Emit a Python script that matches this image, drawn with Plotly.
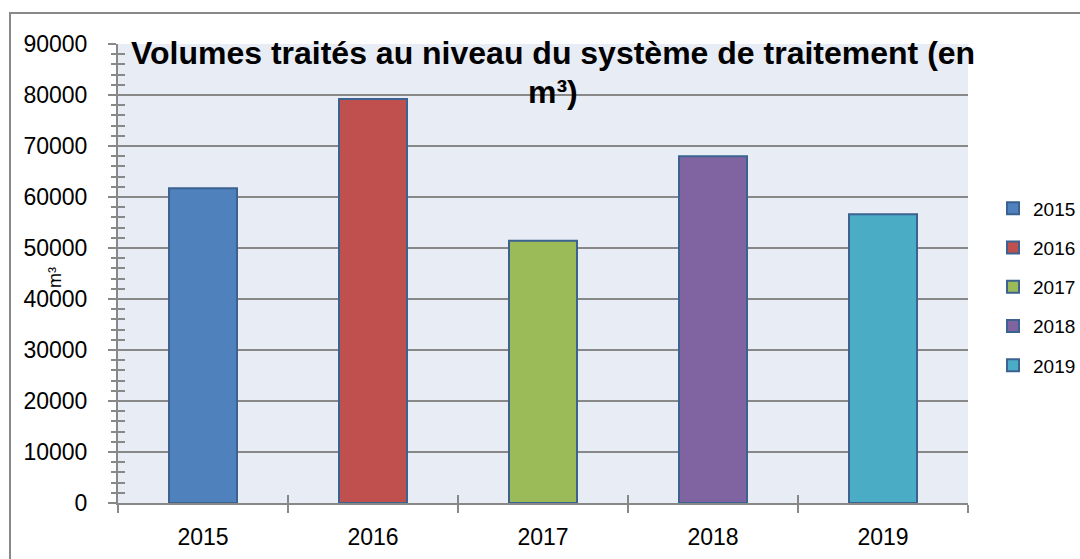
import plotly.graph_objects as go

years = ["2015", "2016", "2017", "2018", "2019"]
volumes = [61700, 79200, 51400, 68000, 56600]
colors = ["#4F81BD", "#C0504D", "#9BBB59", "#8064A2", "#4BACC6"]
y_ticks = [0, 10000, 20000, 30000, 40000, 50000, 60000, 70000, 80000, 90000]
title_line1 = "Volumes traités au niveau du système de traitement (en"
title_line2 = "m³)"
y_title = "m³"

FONT = "Liberation Sans, Arial, sans-serif"

fig = go.Figure()
for yr, v, c in zip(years, volumes, colors):
    fig.add_trace(go.Bar(
        x=[yr], y=[v], name=yr, legendgroup=yr,
        marker=dict(color=c, line=dict(color="#3B6290", width=2)),
        width=0.4,
    ))

# invisible trace to drive the overlay axes (inside tick halves)
fig.add_trace(go.Bar(x=years, y=volumes, xaxis="x2", yaxis="y2",
                     marker=dict(color="rgba(0,0,0,0)", line=dict(width=0)),
                     showlegend=False, hoverinfo="skip", width=0.4))

axis_col = "#888888"
fig.update_layout(
    width=1080, height=559,
    margin=dict(l=118, r=112, t=44, b=56, autoexpand=False),
    paper_bgcolor="white",
    plot_bgcolor="#E8ECF4",
    barmode="overlay",
    showlegend=True,
    legend=dict(x=(993 - 118) / 850, xanchor="left", y=(503 - 287) / 459, yanchor="middle",
                font=dict(family=FONT, size=19, color="#000"),
                tracegroupgap=11.5, bgcolor="rgba(0,0,0,0)"),
    xaxis=dict(type="category", categoryarray=years, range=[-0.5, 4.5], automargin=False,
               showline=True, linecolor=axis_col, linewidth=2,
               ticks="outside", tickson="boundaries", ticklen=8, tickwidth=2, tickcolor=axis_col,
               tickfont=dict(family=FONT, size=23, color="#000"),
               ticklabelstandoff=12, showgrid=False, zeroline=False),
    yaxis=dict(range=[0, 90000], tickvals=y_ticks, ticktext=[str(t) for t in y_ticks], automargin=False,
               showline=True, linecolor=axis_col, linewidth=2,
               ticks="outside", ticklen=8, tickwidth=2, tickcolor=axis_col,
               minor=dict(dtick=2000, ticks="outside", ticklen=5, tickwidth=2, tickcolor=axis_col, showgrid=False),
               tickfont=dict(family=FONT, size=23, color="#000"),
               ticklabelstandoff=16,
               showgrid=True, gridcolor=axis_col, gridwidth=2, zeroline=False),
    xaxis2=dict(type="category", categoryarray=years, range=[-0.5, 4.5], overlaying="x", automargin=False,
                anchor="y2", ticks="inside", tickson="boundaries", ticklen=8, tickwidth=2,
                tickcolor=axis_col, showticklabels=False, showgrid=False, showline=False, zeroline=False),
    yaxis2=dict(range=[0, 90000], overlaying="y", anchor="x2", side="left", automargin=False,
                tickvals=y_ticks, ticks="inside", ticklen=8, tickwidth=2, tickcolor=axis_col,
                minor=dict(dtick=2000, ticks="inside", ticklen=7, tickwidth=2, tickcolor=axis_col, showgrid=False),
                showticklabels=False, showgrid=False, showline=False, zeroline=False),
)

fig.add_annotation(text="<b>" + title_line1 + "</b>", xref="paper", yref="paper",
                   x=(553 - 118) / 850, y=(503 - 53) / 459, xanchor="center", yanchor="middle",
                   showarrow=False, font=dict(family=FONT, size=32, color="#000"))
fig.add_annotation(text="<b>" + title_line2 + "</b>", xref="paper", yref="paper",
                   x=(553 - 118) / 850, y=(503 - 92) / 459, xanchor="center", yanchor="middle",
                   showarrow=False, font=dict(family=FONT, size=32, color="#000"))
fig.add_annotation(text=y_title, xref="paper", yref="paper",
                   x=(55 - 118) / 850, y=(503 - 278) / 459, xanchor="center", yanchor="middle",
                   textangle=-90, showarrow=False,
                   font=dict(family=FONT, size=18, color="#000"))

fig.add_shape(type="rect", xref="paper", yref="paper",
              x0=(10 - 118) / 850, x1=(1095 - 118) / 850,
              y0=(503 - 575) / 459, y1=(503 - 13) / 459,
              line=dict(color=axis_col, width=2), fillcolor="rgba(0,0,0,0)", layer="below")

fig.write_html("out.html", config={"displayModeBar": False},
               post_script="document.body.style.margin='0';document.body.style.overflow='hidden';")
